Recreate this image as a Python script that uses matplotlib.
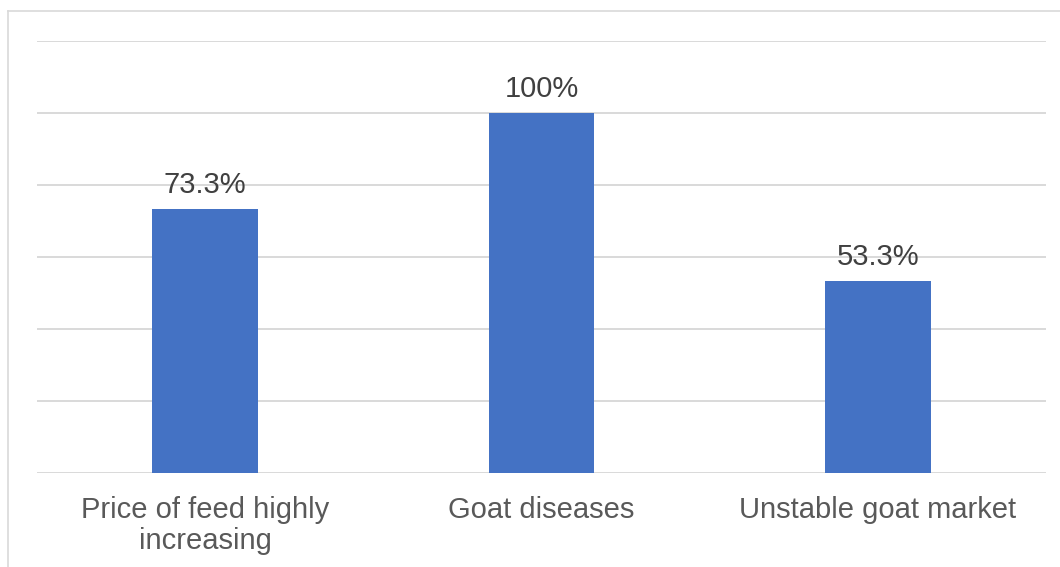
import matplotlib
matplotlib.use("Agg")
import matplotlib.pyplot as plt
from matplotlib.lines import Line2D

categories = ["Price of feed highly\nincreasing", "Goat diseases", "Unstable goat market"]
values = [73.3, 100.0, 53.3]
value_labels = ["73.3%", "100%", "53.3%"]
y_ticks = [0, 20, 40, 60, 80, 100, 120]

plt.rcParams["font.family"] = ["Liberation Sans", "DejaVu Sans"]

fig = plt.figure(figsize=(10.6, 5.67), dpi=100)
ax = fig.add_axes([37 / 1060, 1 - 473 / 567, 1009 / 1060, 432 / 567])

x = range(len(categories))
bars = ax.bar(x, values, width=0.315, color="#4472C4", zorder=3)

ax.set_xlim(-0.5, len(categories) - 0.5)
ax.set_ylim(0, 120)
ax.set_yticks(y_ticks)
ax.yaxis.grid(True, color="#D9D9D9", linewidth=1.4, zorder=0)
ax.tick_params(axis="y", left=False, labelleft=False)
ax.tick_params(axis="x", bottom=False, pad=13, labelsize=21, labelcolor="#595959")
ax.set_xticks(list(x))
ax.set_xticklabels(categories, linespacing=1.15)
for s in ax.spines.values():
    s.set_visible(False)

for rect, lab in zip(bars, value_labels):
    ax.annotate(lab, (rect.get_x() + rect.get_width() / 2, rect.get_height()),
                xytext=(0, 7), textcoords="offset points", ha="center", va="bottom",
                fontsize=21, color="#404040", zorder=4)

# outer chart frame (left and top edges)
fig.add_artist(Line2D([7.5 / 1060, 7.5 / 1060], [0, 1 - 11 / 567], color="#D9D9D9", linewidth=1.2))
fig.add_artist(Line2D([7.5 / 1060, 1], [1 - 11 / 567, 1 - 11 / 567], color="#D9D9D9", linewidth=1.2))

fig.savefig("out.png", dpi=100)
